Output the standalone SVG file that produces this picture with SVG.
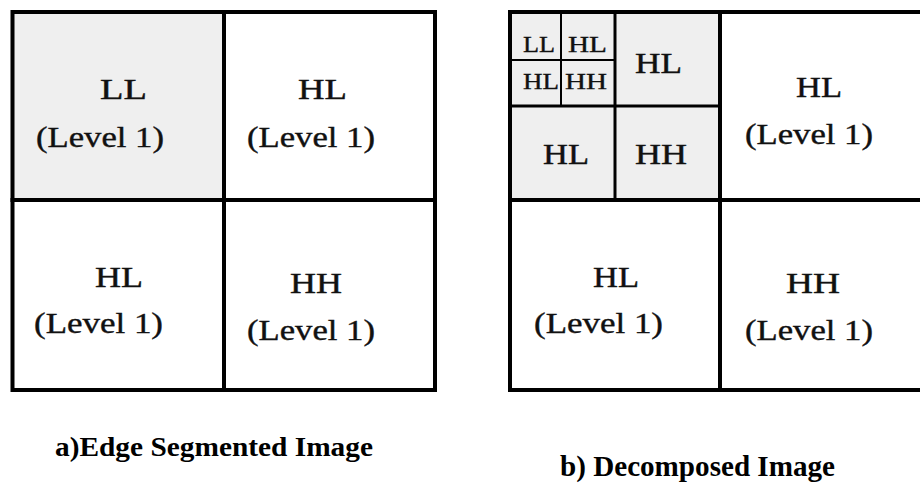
<svg xmlns="http://www.w3.org/2000/svg" width="920" height="485" viewBox="0 0 920 485">
<style>
.ln{stroke:#000;fill:none;stroke-linecap:square}
.t{font-family:"Liberation Serif","Times New Roman",serif;font-size:30px;fill:#111;stroke:#111;stroke-width:0.4}
.s{font-family:"Liberation Serif","Times New Roman",serif;font-size:23px;fill:#111;stroke:#111;stroke-width:0.35}
.c{font-family:"Liberation Serif","Times New Roman",serif;font-weight:bold;fill:#000}
.g{fill:#efefef}
</style>
<rect width="920" height="485" fill="#fff"/>
<g id="figure-a">
  <g id="a-LL">
    <rect class="g" x="12" y="12" width="212" height="188"/>
    <text class="t" x="100" y="99" textLength="47" lengthAdjust="spacingAndGlyphs">LL</text>
    <text class="t" x="36" y="147" textLength="128" lengthAdjust="spacingAndGlyphs">(Level 1)</text>
  </g>
  <g id="a-HL-top">
    <text class="t" x="298" y="99" textLength="49" lengthAdjust="spacingAndGlyphs">HL</text>
    <text class="t" x="247" y="147" textLength="128" lengthAdjust="spacingAndGlyphs">(Level 1)</text>
  </g>
  <g id="a-HL-bottom">
    <text class="t" x="95" y="287" textLength="48" lengthAdjust="spacingAndGlyphs">HL</text>
    <text class="t" x="34" y="333" textLength="129" lengthAdjust="spacingAndGlyphs">(Level 1)</text>
  </g>
  <g id="a-HH">
    <text class="t" x="290" y="293" textLength="52" lengthAdjust="spacingAndGlyphs">HH</text>
    <text class="t" x="247" y="340" textLength="128" lengthAdjust="spacingAndGlyphs">(Level 1)</text>
  </g>
  <g id="a-grid">
    <rect class="ln" x="12.5" y="12" width="422.5" height="378" stroke-width="4"/>
    <line class="ln" x1="224" y1="12" x2="224" y2="390" stroke-width="4"/>
    <line class="ln" x1="12.5" y1="200" x2="435" y2="200" stroke-width="4"/>
  </g>
  <text id="caption-a" class="c" x="55" y="456" font-size="27" textLength="318" lengthAdjust="spacingAndGlyphs">a)Edge Segmented Image</text>
</g>
<g id="figure-b">
  <g id="b-level2">
    <rect class="g" x="510" y="12" width="210" height="188"/>
    <g id="b-level3">
      <text class="s" x="523" y="52" textLength="32" lengthAdjust="spacingAndGlyphs">LL</text>
      <text class="s" x="568" y="52" textLength="39" lengthAdjust="spacingAndGlyphs">HL</text>
      <text class="s" x="523" y="89" textLength="36" lengthAdjust="spacingAndGlyphs">HL</text>
      <text class="s" x="565" y="89" textLength="42" lengthAdjust="spacingAndGlyphs">HH</text>
    </g>
    <text class="t" x="635" y="73" textLength="47" lengthAdjust="spacingAndGlyphs">HL</text>
    <text class="t" x="543" y="164" textLength="46" lengthAdjust="spacingAndGlyphs">HL</text>
    <text class="t" x="635" y="164" textLength="52" lengthAdjust="spacingAndGlyphs">HH</text>
  </g>
  <g id="b-HL-top">
    <text class="t" x="796" y="97" textLength="46" lengthAdjust="spacingAndGlyphs">HL</text>
    <text class="t" x="745" y="144" textLength="128" lengthAdjust="spacingAndGlyphs">(Level 1)</text>
  </g>
  <g id="b-HL-bottom">
    <text class="t" x="593" y="287" textLength="46" lengthAdjust="spacingAndGlyphs">HL</text>
    <text class="t" x="534" y="333" textLength="129" lengthAdjust="spacingAndGlyphs">(Level 1)</text>
  </g>
  <g id="b-HH">
    <text class="t" x="786" y="293" textLength="54" lengthAdjust="spacingAndGlyphs">HH</text>
    <text class="t" x="745" y="340" textLength="128" lengthAdjust="spacingAndGlyphs">(Level 1)</text>
  </g>
  <g id="b-grid">
    <path class="ln" d="M922,12 H510 V390 H922" stroke-width="4"/>
    <line class="ln" x1="720" y1="12" x2="720" y2="390" stroke-width="4"/>
    <line class="ln" x1="510" y1="200" x2="922" y2="200" stroke-width="4"/>
    <line class="ln" x1="615" y1="12" x2="615" y2="200" stroke-width="3"/>
    <line class="ln" x1="510" y1="106" x2="720" y2="106" stroke-width="3"/>
    <line class="ln" x1="561" y1="12" x2="561" y2="106" stroke-width="2"/>
    <line class="ln" x1="510" y1="60" x2="615" y2="60" stroke-width="2"/>
  </g>
  <text id="caption-b" class="c" x="560" y="476" font-size="29" textLength="275" lengthAdjust="spacingAndGlyphs">b) Decomposed Image</text>
</g>
<g id="connectors"/>
</svg>
